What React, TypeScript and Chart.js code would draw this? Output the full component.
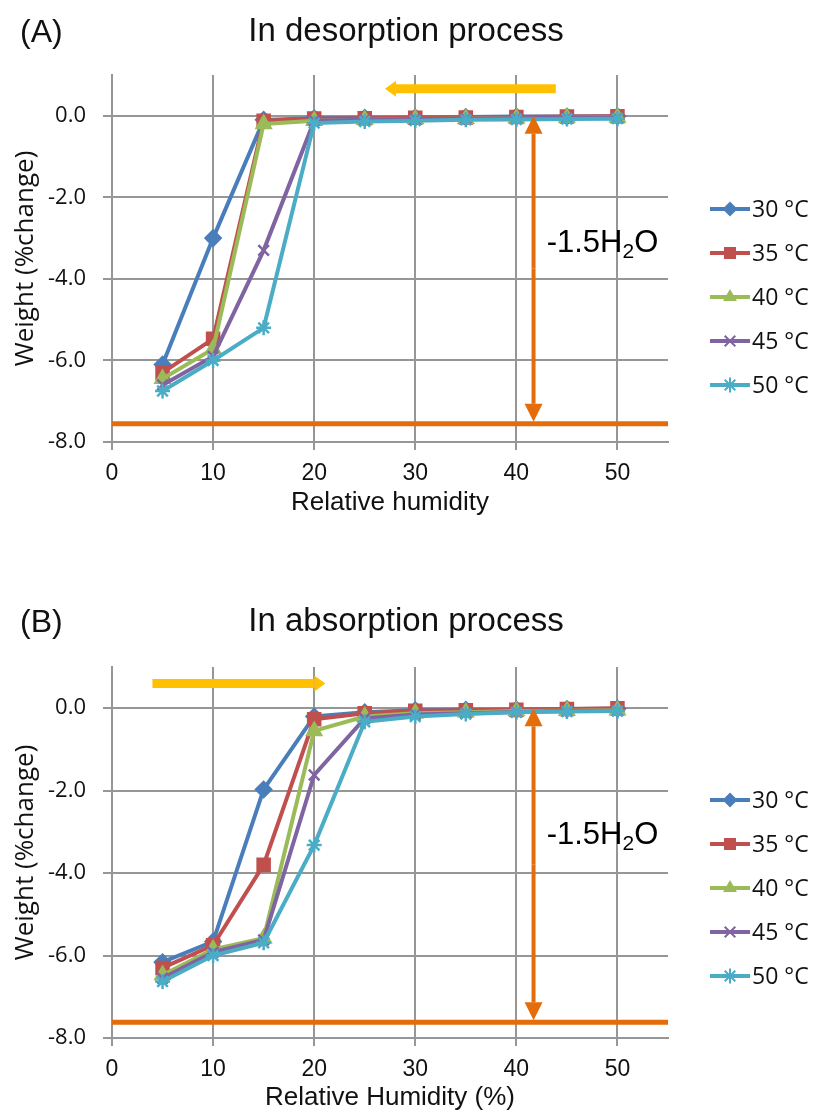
import React, { useEffect, useRef } from 'react';
import { Chart, registerables } from 'chart.js';

Chart.register(...registerables);

// ---------- data ----------
const RH = [5, 10, 15, 20, 25, 30, 35, 40, 45, 50];
const TEMPS = ['30 °C', '35 °C', '40 °C', '45 °C', '50 °C'];

const desorb30 = [-6.1, -3.0, -0.1, -0.06, -0.05, -0.04, -0.03, -0.02, -0.02, -0.01];
const desorb35 = [-6.3, -5.47, -0.12, -0.07, -0.06, -0.05, -0.04, -0.03, -0.02, -0.01];
const desorb40 = [-6.45, -5.72, -0.2, -0.12, -0.1, -0.08, -0.07, -0.06, -0.05, -0.04];
const desorb45 = [-6.6, -5.9, -3.3, -0.12, -0.1, -0.08, -0.07, -0.06, -0.05, -0.05];
const desorb50 = [-6.75, -6.0, -5.2, -0.18, -0.14, -0.12, -0.1, -0.09, -0.08, -0.07];

const absorb30 = [-6.16, -5.66, -1.97, -0.2, -0.1, -0.05, -0.04, -0.03, -0.02, -0.01];
const absorb35 = [-6.3, -5.75, -3.8, -0.27, -0.12, -0.06, -0.05, -0.04, -0.02, 0.0];
const absorb40 = [-6.47, -5.85, -5.58, -0.55, -0.2, -0.12, -0.1, -0.07, -0.06, -0.05];
const absorb45 = [-6.55, -5.92, -5.62, -1.62, -0.25, -0.15, -0.12, -0.09, -0.07, -0.06];
const absorb50 = [-6.63, -6.0, -5.69, -3.32, -0.33, -0.2, -0.14, -0.1, -0.08, -0.07];

const X_MIN = 0;
const X_MAX = 55;
const X_STEP = 10;
const Y_MIN = -8;
const Y_MAX = 1;
const Y_STEP = 2;

// annotation values (data units)
const desorbLevel = -7.55;
const absorbLevel = -7.62;
const arrowRH = 41.7;
const desorbYellow = { from: 43.9, to: 27.0, y: 0.66 };
const absorbYellow = { from: 4.0, to: 21.1, y: 0.6 };
const waterLabel = { main: '-1.5H', sub: '2', tail: 'O' };
const desorbLabelPos = { x: 43, y: -3.12 };
const absorbLabelPos = { x: 43, y: -3.08 };

// ---------- styles ----------
const COLORS = ['#4A7EBB', '#C0504D', '#9BBB59', '#8064A2', '#4BACC6'];
const STYLES = ['rectRot', 'rect', 'triangle', 'crossRot', 'star'];
const RADII = [7.5, 8.5, 8, 7.5, 7.5];
const ORANGE = '#E46C0A';
const YELLOW = '#FFC000';
const GRID = '#969696';

function drawMarker(ctx: CanvasRenderingContext2D, style: string, x: number, y: number, r: number, color: string) {
  ctx.save();
  ctx.fillStyle = color;
  ctx.strokeStyle = color;
  ctx.lineWidth = 2;
  ctx.beginPath();
  if (style === 'rectRot') {
    ctx.moveTo(x, y - r); ctx.lineTo(x + r, y); ctx.lineTo(x, y + r); ctx.lineTo(x - r, y); ctx.closePath();
    ctx.fill();
  } else if (style === 'rect') {
    const s = r * Math.SQRT1_2;
    ctx.rect(x - s, y - s, 2 * s, 2 * s);
    ctx.fill();
  } else if (style === 'triangle') {
    ctx.moveTo(x, y - r); ctx.lineTo(x + r * 0.87, y + r * 0.5); ctx.lineTo(x - r * 0.87, y + r * 0.5); ctx.closePath();
    ctx.fill();
  } else if (style === 'crossRot') {
    const d = r * Math.SQRT1_2;
    ctx.moveTo(x - d, y - d); ctx.lineTo(x + d, y + d); ctx.moveTo(x + d, y - d); ctx.lineTo(x - d, y + d);
    ctx.stroke();
  } else {
    const d = r * Math.SQRT1_2;
    ctx.moveTo(x - d, y - d); ctx.lineTo(x + d, y + d); ctx.moveTo(x + d, y - d); ctx.lineTo(x - d, y + d);
    ctx.moveTo(x, y - r); ctx.lineTo(x, y + r); ctx.moveTo(x - r, y); ctx.lineTo(x + r, y);
    ctx.stroke();
  }
  ctx.restore();
}

function arrow(ctx: CanvasRenderingContext2D, x1: number, y1: number, x2: number, y2: number,
  shaftW: number, headW: number, headL: number, color: string) {
  const ang = Math.atan2(y2 - y1, x2 - x1);
  const bx = x2 - Math.cos(ang) * headL;
  const by = y2 - Math.sin(ang) * headL;
  ctx.save();
  ctx.strokeStyle = color;
  ctx.fillStyle = color;
  ctx.lineWidth = shaftW;
  ctx.lineCap = 'butt';
  ctx.beginPath();
  ctx.moveTo(x1, y1);
  ctx.lineTo(bx, by);
  ctx.stroke();
  const px = -Math.sin(ang) * headW / 2;
  const py = Math.cos(ang) * headW / 2;
  ctx.beginPath();
  ctx.moveTo(x2, y2);
  ctx.lineTo(bx + px, by + py);
  ctx.lineTo(bx - px, by - py);
  ctx.closePath();
  ctx.fill();
  ctx.restore();
}

type PanelCfg = {
  top: number;
  height: number;
  padTop: number;
  padBottom: number;
  xAxisH: number;
  series: number[][];
  xTitle: string;
  level: number;
  yellow: { from: number; to: number; y: number };
  labelPos: { x: number; y: number };
  legendTop: number;
};

function buildConfig(p: PanelCfg): any {
  const datasets: any[] = p.series.map((vals, i) => ({
    label: TEMPS[i],
    data: RH.map((x, j) => ({ x, y: vals[j] })),
    borderColor: COLORS[i],
    backgroundColor: COLORS[i],
    borderWidth: 4,
    pointStyle: STYLES[i],
    pointRadius: RADII[i],
    pointBackgroundColor: COLORS[i],
    pointBorderColor: COLORS[i],
    pointBorderWidth: 2.5,
    tension: 0,
    order: 10 - i,
  }));
  datasets.push({
    label: 'level',
    data: [{ x: X_MIN, y: p.level }, { x: X_MAX, y: p.level }],
    borderColor: ORANGE,
    backgroundColor: ORANGE,
    borderWidth: 5,
    pointRadius: 0,
    order: 20,
  });

  const annot = {
    id: 'annot',
    afterDatasetsDraw(chart: any) {
      const { ctx, scales } = chart;
      const x = scales.x;
      const y = scales.y;
      // vertical double arrow
      const ax = x.getPixelForValue(arrowRH);
      const yTop = y.getPixelForValue(0);
      const yBot = y.getPixelForValue(p.level) - 2;
      const mid = (yTop + yBot) / 2;
      arrow(ctx, ax, mid, ax, yTop, 4, 18, 18, ORANGE);
      arrow(ctx, ax, mid, ax, yBot, 4, 18, 18, ORANGE);
      // yellow direction arrow
      const yy = y.getPixelForValue(p.yellow.y);
      arrow(ctx, x.getPixelForValue(p.yellow.from), yy, x.getPixelForValue(p.yellow.to), yy, 9, 16, 11, YELLOW);
      // water label
      const tx = x.getPixelForValue(p.labelPos.x);
      const ty = y.getPixelForValue(p.labelPos.y);
      ctx.save();
      ctx.fillStyle = '#000';
      ctx.textBaseline = 'middle';
      ctx.textAlign = 'left';
      ctx.font = '31px "Liberation Sans"';
      ctx.fillText(waterLabel.main, tx, ty);
      let cx = tx + ctx.measureText(waterLabel.main).width;
      ctx.font = '21px "Liberation Sans"';
      ctx.fillText(waterLabel.sub, cx, ty + 9);
      cx += ctx.measureText(waterLabel.sub).width;
      ctx.font = '31px "Liberation Sans"';
      ctx.fillText(waterLabel.tail, cx, ty);
      ctx.restore();
    },
    afterDraw(chart: any) {
      const { ctx, chartArea } = chart;
      ctx.save();
      for (let i = 0; i < TEMPS.length; i++) {
        const ly = chartArea.top + p.legendTop + i * 44;
        ctx.strokeStyle = COLORS[i];
        ctx.lineWidth = 4;
        ctx.beginPath();
        ctx.moveTo(710, ly);
        ctx.lineTo(750, ly);
        ctx.stroke();
        drawMarker(ctx, STYLES[i], 730, ly, RADII[i], COLORS[i]);
        ctx.fillStyle = '#111';
        ctx.font = '23px "Open Sans"';
        ctx.textBaseline = 'middle';
        ctx.textAlign = 'left';
        ctx.fillText(TEMPS[i], 752, ly + 1);
      }
      ctx.restore();
    },
  };

  return {
    type: 'line',
    data: { datasets },
    plugins: [annot],
    options: {
      animation: false,
      responsive: false,
      maintainAspectRatio: false,
      layout: { padding: { left: 0, right: 146, top: p.padTop, bottom: p.padBottom } },
      plugins: { legend: { display: false }, tooltip: { enabled: false }, title: { display: false } },
      scales: {
        x: {
          type: 'linear',
          min: X_MIN,
          max: X_MAX,
          ticks: {
            stepSize: X_STEP,
            includeBounds: false,
            font: { family: 'Liberation Sans', size: 23 },
            color: '#111',
            padding: 10,
            maxRotation: 0,
          },
          grid: { color: GRID, lineWidth: 2, tickLength: 8 },
          border: { display: true, color: GRID, width: 2 },
          title: {
            display: true,
            text: p.xTitle,
            font: { family: 'Liberation Sans', size: 26 },
            color: '#111',
            padding: { top: 0, bottom: 0 },
          },
          afterFit(scale: any) { scale.height = p.xAxisH; },
        },
        y: {
          type: 'linear',
          min: Y_MIN,
          max: Y_MAX,
          ticks: {
            stepSize: Y_STEP,
            includeBounds: false,
            font: { family: 'Open Sans', size: 22 },
            color: '#111',
            padding: 17,
            callback: (v: number) => Number(v).toFixed(1),
          },
          grid: { color: GRID, lineWidth: 2, tickLength: 9 },
          border: { display: true, color: GRID, width: 2 },
          title: {
            display: true,
            text: 'Weight (%change)',
            font: { family: 'Open Sans', size: 26 },
            color: '#111',
            padding: { top: 10, bottom: 0 },
          },
          afterFit(scale: any) { scale.width = 112; },
        },
      },
    },
  };
}

const PANEL_A: PanelCfg = {
  top: 0, height: 540, padTop: 75, padBottom: 22, xAxisH: 76,
  series: [desorb30, desorb35, desorb40, desorb45, desorb50],
  xTitle: 'Relative humidity', level: desorbLevel, yellow: desorbYellow,
  labelPos: desorbLabelPos, legendTop: 134,
};

const PANEL_B: PanelCfg = {
  top: 560, height: 559, padTop: 107, padBottom: 6, xAxisH: 75,
  series: [absorb30, absorb35, absorb40, absorb45, absorb50],
  xTitle: 'Relative Humidity (%)', level: absorbLevel, yellow: absorbYellow,
  labelPos: absorbLabelPos, legendTop: 133,
};

function Panel({ cfg }: { cfg: PanelCfg }) {
  const ref = useRef<HTMLCanvasElement>(null);
  useEffect(() => {
    const chart = new Chart(ref.current as HTMLCanvasElement, buildConfig(cfg));
    return () => chart.destroy();
  }, [cfg]);
  return (
    <canvas
      ref={ref}
      width={814}
      height={cfg.height}
      style={{ position: 'absolute', left: 0, top: cfg.top, width: 814, height: cfg.height }}
    />
  );
}

const titleStyle: React.CSSProperties = {
  position: 'absolute',
  fontFamily: '"Liberation Sans", Arial, sans-serif',
  lineHeight: 1,
  color: '#111',
  whiteSpace: 'nowrap',
};

export default function App() {
  return (
    <div style={{ position: 'absolute', left: 0, top: 0, width: 814, height: 1119, background: '#fff', overflow: 'hidden' }}>
      <Panel cfg={PANEL_A} />
      <Panel cfg={PANEL_B} />
      <div style={{ ...titleStyle, left: 20, top: 15, fontSize: 32 }}>(A)</div>
      <div style={{ ...titleStyle, left: 0, width: 812, textAlign: 'center', top: 13, fontSize: 33 }}>In desorption process</div>
      <div style={{ ...titleStyle, left: 20, top: 605, fontSize: 32 }}>(B)</div>
      <div style={{ ...titleStyle, left: 0, width: 812, textAlign: 'center', top: 603, fontSize: 33 }}>In absorption process</div>
    </div>
  );
}
